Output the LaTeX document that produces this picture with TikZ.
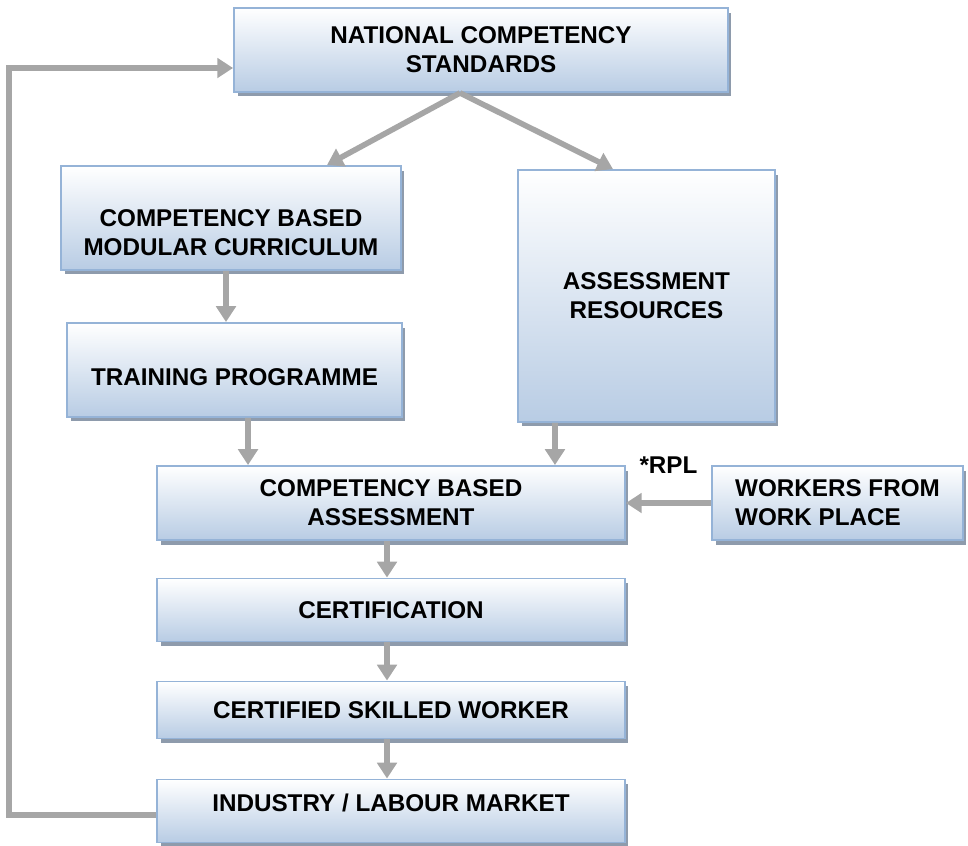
\documentclass[tikz,border=0pt]{standalone}
\usepackage{fontspec}
\setmainfont{Liberation Sans}
\usetikzlibrary{arrows.meta,shadows}

\definecolor{boxblue}{HTML}{B8CCE4}
\definecolor{boxline}{HTML}{95B3D7}
\definecolor{arrowgray}{HTML}{A6A6A6}
\definecolor{shadowgray}{HTML}{8E9BAC}

\tikzset{
  box/.style={draw=boxline, line width=1.1pt, top color=white, bottom color=boxblue,
    drop shadow={shadow xshift=0.07cm, shadow yshift=-0.09cm, fill=shadowgray, opacity=1},
    align=center, inner sep=0pt, font=\bfseries\fontsize{13.8}{16.5}\selectfont},
  arr/.style={draw=arrowgray, line width=3.2pt, -{Triangle[width=11pt,length=9pt]}},
  lbl/.style={font=\bfseries\fontsize{13.8}{16.5}\selectfont}
}

\begin{document}
\begin{tikzpicture}[x=0.02cm, y=-0.02cm]
\useasboundingbox (0,0) rectangle (968,846);

% standards
\node[box, minimum width=9.88cm, minimum height=1.68cm] (ncs) at (481,50)
  {NATIONAL COMPETENCY\\STANDARDS};

% curriculum and training
\node[box, minimum width=6.8cm, minimum height=2.08cm] (cbmc) at (231,218)
  {\mbox{}\\[10pt]COMPETENCY BASED\\MODULAR CURRICULUM};
\node[box, minimum width=6.7cm, minimum height=1.88cm, text height=17.6pt, text depth=0pt] (tp) at (234.5,370)
  {TRAINING PROGRAMME};

% resources
\node[box, minimum width=5.14cm, minimum height=5.04cm] (ar) at (646.5,296)
  {ASSESSMENT\\RESOURCES};

% assessment
\node[box, minimum width=9.36cm, minimum height=1.48cm] (cba) at (391,503)
  {COMPETENCY BASED\\ASSESSMENT};
\node[box, align=left, minimum width=5.02cm, minimum height=1.48cm] (wfwp) at (837.5,503)
  {WORKERS FROM\\WORK PLACE};

% certification chain
\node[box, minimum width=9.36cm, minimum height=1.26cm] (cert) at (391,610) {CERTIFICATION};
\node[box, minimum width=9.36cm, minimum height=1.14cm] (csw) at (391,710) {CERTIFIED SKILLED WORKER};
\node[box, minimum width=9.36cm, minimum height=1.26cm, text height=5pt, text depth=4.6pt] (ilm) at (391,811)
  {INDUSTRY / LABOUR MARKET};

% arrows
\draw[arr] ([xshift=-0.42cm]ncs.south) -- ([xshift=1.92cm]cbmc.north);
\draw[arr] ([xshift=-0.42cm]ncs.south) -- ([xshift=-0.67cm]ar.north);
\draw[arr] ([xshift=-0.1cm]cbmc.south) -- ([xshift=-0.17cm]tp.north);
\draw[arr] ([xshift=0.27cm]tp.south) -- ([xshift=-2.86cm]cba.north);
\draw[arr] ([xshift=-1.83cm]ar.south) -- ([xshift=3.28cm]cba.north);
\draw[arr] (wfwp.west) -- node[lbl, yshift=0.76cm] (rpl) {*RPL} (cba.east);
\draw[arr] ([xshift=-0.08cm]cba.south) -- ([xshift=-0.08cm]cert.north);
\draw[arr] ([xshift=-0.08cm]cert.south) -- ([xshift=-0.08cm]csw.north);
\draw[arr] ([xshift=-0.08cm]csw.south) -- ([xshift=-0.08cm]ilm.north);

% feedback
\draw[arr] ([yshift=-0.08cm]ilm.west) -- ++(-2.94cm,0) |- ([yshift=-0.36cm]ncs.west);

\end{tikzpicture}
\end{document}
